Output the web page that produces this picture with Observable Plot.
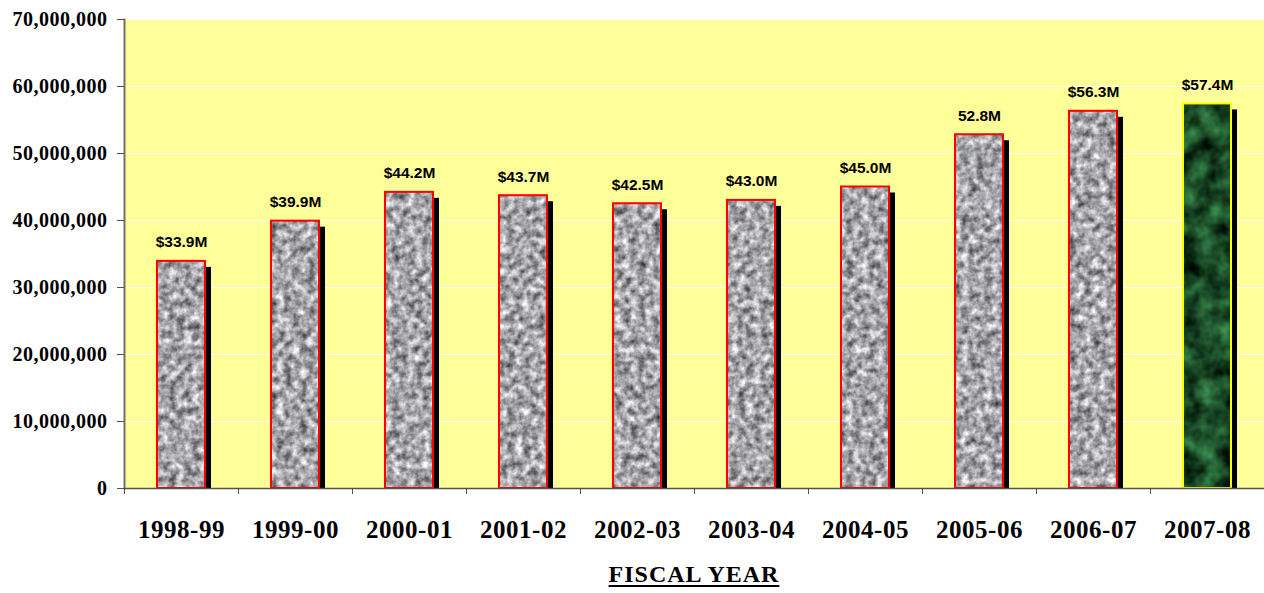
<!DOCTYPE html>
<html><head><meta charset="utf-8">
<script src="https://cdn.jsdelivr.net/npm/d3@7"></script>
<script src="https://cdn.jsdelivr.net/npm/@observablehq/plot@0.6"></script>
<style>
body{margin:0;background:#fff;position:relative;width:1264px;height:593px;overflow:hidden;}
#chart{position:absolute;left:0;top:0;}
#xtitle{position:absolute;left:124px;width:1140px;top:561px;text-align:center;
  font-family:"Liberation Serif","Times New Roman",serif;font-weight:bold;font-size:24px;
  letter-spacing:1px;text-decoration:underline;text-underline-offset:3px;color:#000;}
</style>
</head><body>
<svg width="0" height="0" style="position:absolute">
  <defs>
    <filter id="fGray" x="0" y="0" width="100%" height="100%" color-interpolation-filters="sRGB">
      <feTurbulence type="fractalNoise" baseFrequency="0.13" numOctaves="3" seed="4"/>
      <feColorMatrix type="matrix" values="1.05 0 0 0 0.12  1.05 0 0 0 0.12  1.05 0 0 0 0.14  0 0 0 0 1"/>
    </filter>
    <filter id="fGreen" x="0" y="0" width="100%" height="100%" color-interpolation-filters="sRGB">
      <feTurbulence type="fractalNoise" baseFrequency="0.05" numOctaves="3" seed="9"/>
      <feColorMatrix type="matrix" values="0.35 0 0 0 -0.07  0.75 0 0 0 -0.08  0.45 0 0 0 -0.07  0 0 0 0 1"/>
    </filter>
    <pattern id="granite" patternUnits="userSpaceOnUse" x="0" y="0" width="1264" height="593">
      <rect width="1264" height="593" filter="url(#fGray)"/>
    </pattern>
    <pattern id="marble" patternUnits="userSpaceOnUse" x="0" y="0" width="1264" height="593">
      <rect width="1264" height="593" filter="url(#fGreen)"/>
    </pattern>
  </defs>
</svg>
<div id="chart"></div>
<div id="xtitle">FISCAL YEAR</div>
<script>
const years = ["1998-99","1999-00","2000-01","2001-02","2002-03","2003-04","2004-05","2005-06","2006-07","2007-08"];
const values = [33900000, 39900000, 44200000, 43700000, 42500000, 43000000, 45000000, 52800000, 56300000, 57400000];
const labels = ["$33.9M","$39.9M","$44.2M","$43.7M","$42.5M","$43.0M","$45.0M","52.8M","$56.3M","$57.4M"];
const yTicks = [0, 10000000, 20000000, 30000000, 40000000, 50000000, 60000000, 70000000];

const data = years.map((y, i) => ({year: y, value: values[i], label: labels[i], current: i === years.length - 1}));
const past = data.filter(d => !d.current);
const current = data.filter(d => d.current);

const serif = "Liberation Serif, Times New Roman, serif";

const chart = Plot.plot({
  width: 1264, height: 556,
  marginLeft: 124, marginRight: 0, marginTop: 19, marginBottom: 68,
  style: {background: "transparent", overflow: "visible"},
  x: {domain: years, paddingInner: 0.58, paddingOuter: 0.29, label: null},
  y: {domain: [0, 70000000], label: null},
  marks: [
    Plot.frame({fill: "#FFFF99", stroke: null}),
    Plot.gridY(yTicks, {stroke: "#ffffff", strokeOpacity: 1, strokeWidth: 1}),
    Plot.barY(data, {x: "year", y: "value", fill: "black", dx: 6, insetTop: 6}),
    Plot.barY(past, {x: "year", y: "value", fill: "url(#granite)", stroke: "#FF0000", strokeWidth: 2}),
    Plot.barY(current, {x: "year", y: "value", fill: "url(#marble)", stroke: "#FFFF00", strokeWidth: 2}),
    Plot.text(data, {x: "year", y: "value", text: "label", dy: -14, lineAnchor: "bottom",
      fontFamily: "Liberation Sans, Arial, sans-serif", fontWeight: "bold", fontSize: 15.5, fill: "#000"}),
    Plot.frame({anchor: "left", stroke: "#707070", strokeWidth: 2}),
    Plot.ruleY([0], {stroke: "#505050", strokeWidth: 1.5}),
    Plot.axisY({ticks: yTicks, tickFormat: d3.format(","), tickSize: 7, tickPadding: 10, label: null,
      fontFamily: serif, fontWeight: "bold", fontSize: 20, color: "#000", stroke: "#505050"}),
    Plot.axisX({tickSize: 6, tickFormat: () => "", dx: -57, label: null, stroke: "#505050"}),
    Plot.axisX({tickSize: 0, tickPadding: 32, label: null,
      fontFamily: serif, fontWeight: "bold", fontSize: 25, color: "#000"})
  ]
});
chart.querySelectorAll("g[aria-label='x-axis tick label'] text, g[aria-label='y-axis tick label'] text").forEach(t => t.setAttribute("letter-spacing", "0.5"));
document.getElementById("chart").appendChild(chart);
</script>
</body></html>
